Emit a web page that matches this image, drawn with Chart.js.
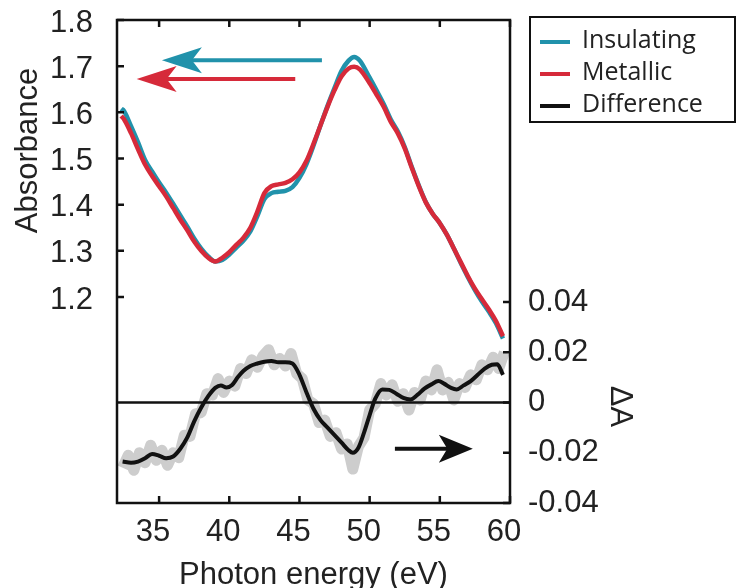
<!DOCTYPE html>
<html><head><meta charset="utf-8">
<script src="https://cdn.jsdelivr.net/npm/chart.js@4.4.1/dist/chart.umd.min.js"></script>
<style>html,body{margin:0;padding:0;background:#fff;}#wrap{width:738px;height:588px;}</style>
</head><body><div id="wrap"><canvas id="c" width="738" height="588"></canvas></div>
<script>
// ---- data ----
const energy = [32.3,32.5,33.0,33.5,34.0,34.5,35.0,35.5,36.0,36.5,37.0,37.5,38.0,38.5,39.0,39.5,40.0,40.5,41.0,41.5,42.0,42.5,43.0,43.5,44.0,44.5,45.0,45.5,46.0,46.5,47.0,47.5,48.0,48.5,48.9,49.3,50.0,50.5,51.0,51.5,52.0,52.5,53.0,53.5,54.0,54.5,55.0,55.5,56.0,56.5,57.0,57.5,58.0,58.5,59.0,59.5];
const insulating = [1.608,1.603,1.570,1.535,1.497,1.472,1.448,1.426,1.402,1.377,1.353,1.327,1.305,1.288,1.277,1.280,1.292,1.307,1.322,1.342,1.375,1.412,1.425,1.428,1.430,1.438,1.458,1.488,1.528,1.572,1.614,1.653,1.690,1.712,1.720,1.712,1.675,1.647,1.618,1.585,1.559,1.525,1.482,1.442,1.406,1.380,1.360,1.335,1.305,1.273,1.243,1.215,1.190,1.168,1.143,1.110];
const metallic = [1.592,1.585,1.555,1.520,1.487,1.462,1.440,1.418,1.393,1.368,1.345,1.320,1.300,1.285,1.277,1.285,1.297,1.313,1.328,1.350,1.385,1.425,1.440,1.444,1.447,1.455,1.470,1.495,1.532,1.572,1.612,1.648,1.678,1.695,1.699,1.693,1.663,1.638,1.612,1.580,1.555,1.522,1.480,1.440,1.405,1.380,1.360,1.335,1.305,1.275,1.245,1.218,1.195,1.173,1.148,1.115];
const diffEnergy = [32.4,33.0,33.5,34.0,34.5,35.0,35.5,36.0,36.5,37.0,37.5,38.0,38.5,39.0,39.4,39.8,40.2,40.6,41.0,41.5,42.0,42.5,43.0,43.5,44.0,44.5,45.0,45.5,46.0,46.5,47.0,47.5,48.0,48.5,48.8,49.2,49.6,50.0,50.4,50.9,51.4,51.9,52.4,52.9,53.4,53.9,54.4,54.9,55.3,55.8,56.2,56.7,57.2,57.7,58.2,58.7,59.1,59.5];
const difference = [-0.0235,-0.0240,-0.0235,-0.0222,-0.0205,-0.0212,-0.0222,-0.0215,-0.0185,-0.0140,-0.0075,-0.0020,0.0025,0.0058,0.0068,0.0060,0.0070,0.0100,0.0125,0.0145,0.0155,0.0162,0.0165,0.0160,0.0160,0.0155,0.0110,0.0040,-0.0025,-0.0070,-0.0100,-0.0130,-0.0160,-0.0190,-0.0200,-0.0180,-0.0120,-0.0050,0.0015,0.0052,0.0050,0.0035,0.0018,0.0012,0.0030,0.0055,0.0072,0.0085,0.0075,0.0058,0.0052,0.0068,0.0085,0.0110,0.0135,0.0150,0.0152,0.0110];
const rawEnergy = [32.4,32.8,33.2,33.6,34.0,34.4,34.8,35.2,35.6,36.0,36.4,36.8,37.2,37.6,38.0,38.4,38.8,39.2,39.6,40.0,40.4,40.8,41.2,41.6,42.0,42.4,42.8,43.2,43.6,44.0,44.4,44.8,45.2,45.6,46.0,46.4,46.8,47.2,47.6,48.0,48.4,48.8,49.2,49.6,50.0,50.4,50.8,51.2,51.6,52.0,52.4,52.8,53.2,53.6,54.0,54.4,54.8,55.2,55.6,56.0,56.4,56.8,57.2,57.6,58.0,58.4,58.8,59.2,59.6];
const differenceRaw = [-0.026,-0.021,-0.027,-0.020,-0.024,-0.017,-0.023,-0.019,-0.025,-0.020,-0.022,-0.013,-0.0135,-0.0045,-0.004,0.0035,0.003,0.0095,0.004,0.0085,0.0065,0.0135,0.0115,0.017,0.014,0.0185,0.021,0.015,0.0175,0.0145,0.0195,0.0115,0.0095,0.001,-0.0005,-0.008,-0.007,-0.0135,-0.012,-0.0185,-0.0165,-0.0265,-0.0175,-0.014,-0.003,-0.0005,0.0075,0.003,0.007,0.0005,0.0035,-0.003,0.004,0.001,0.0085,0.005,0.013,0.005,0.008,0.001,0.0075,0.006,0.011,0.009,0.015,0.013,0.018,0.0135,0.020];
const xTicks = [35,40,45,50,55,60];
const absTicks = [1.2,1.3,1.4,1.5,1.6,1.7,1.8];
const dATicks = [-0.04,-0.02,0,0.02,0.04];
const seriesNames = ['Insulating','Metallic','Difference'];
// arrow annotations in data units: [x from, x to (tip), y, axis]
const arrowBlue = [46.6, 35.2, 1.713, 'y'];
const arrowRed = [44.7, 33.4, 1.672, 'y'];
const arrowBlack = [51.8, 57.35, -0.0184, 'y2'];

// ---- styles ----
const BLUE = '#2192ab', RED = '#d62a3a', BLACK = '#111111', GRAY = '#cdcdcd', TXT = '#222222';
const FONT = "'Liberation Sans', Arial, sans-serif";
const pts = (xs, ys) => xs.map((x, i) => ({x, y: ys[i]}));

function drawArrow(ctx, x1, x2, y, color, L, W) {
  const d = Math.sign(x2 - x1);
  ctx.save();
  ctx.strokeStyle = color; ctx.fillStyle = color; ctx.lineWidth = 4;
  ctx.beginPath(); ctx.moveTo(x1, y); ctx.lineTo(x2 - d * L * 0.6, y); ctx.stroke();
  ctx.beginPath();
  ctx.moveTo(x2, y);
  ctx.lineTo(x2 - d * L, y - W);
  ctx.lineTo(x2 - d * L * 0.75, y);
  ctx.lineTo(x2 - d * L, y + W);
  ctx.closePath(); ctx.fill();
  ctx.restore();
}

const framePlugin = {
  id: 'frame',
  afterDatasetDraw(chart, args) {
    if (args.index !== 3) return;
    const {ctx, chartArea: a, scales} = chart;
    const y0 = scales.y2.getPixelForValue(0);
    ctx.save(); ctx.strokeStyle = BLACK; ctx.lineWidth = 2.5;
    ctx.beginPath(); ctx.moveTo(a.left, y0); ctx.lineTo(a.right, y0); ctx.stroke(); ctx.restore();
  },
  afterDraw(chart) {
    const {ctx, chartArea: a, scales} = chart;
    ctx.save();
    ctx.strokeStyle = BLACK; ctx.lineWidth = 2.5;
    ctx.strokeRect(a.left, a.top, a.right - a.left, a.bottom - a.top);
    const T = 7;
    ctx.beginPath();
    xTicks.forEach(v => { const x = scales.x.getPixelForValue(v);
      ctx.moveTo(x, a.bottom); ctx.lineTo(x, a.bottom - T);
      ctx.moveTo(x, a.top); ctx.lineTo(x, a.top + T); });
    absTicks.forEach(v => { const y = scales.y.getPixelForValue(v);
      ctx.moveTo(a.left, y); ctx.lineTo(a.left + T, y); });
    dATicks.forEach(v => { const y = scales.y2.getPixelForValue(v);
      ctx.moveTo(a.right, y); ctx.lineTo(a.right - T, y); });
    ctx.stroke();

    // y titles
    ctx.fillStyle = TXT; ctx.font = '31px ' + FONT;
    ctx.textAlign = 'center'; ctx.textBaseline = 'middle';
    ctx.save(); ctx.translate(28, (scales.y.getPixelForValue(1.2) + scales.y.getPixelForValue(1.8)) / 2 - 8);
    ctx.rotate(-Math.PI / 2); ctx.fillText('Absorbance', 0, 0); ctx.restore();
    ctx.save(); ctx.translate(620, scales.y2.getPixelForValue(0) + 4);
    ctx.rotate(Math.PI / 2); ctx.fillText('ΔA', 0, 0); ctx.restore();

    // arrows
    [[arrowBlue, BLUE, 40, 13], [arrowRed, RED, 40, 13], [arrowBlack, BLACK, 34, 14]].forEach(([ar, c, L, W]) => {
      drawArrow(ctx, scales.x.getPixelForValue(ar[0]), scales.x.getPixelForValue(ar[1]),
        scales[ar[3]].getPixelForValue(ar[2]), c, L, W);
    });

    // legend
    ctx.lineWidth = 2; ctx.strokeStyle = BLACK;
    ctx.strokeRect(530, 17, 205, 105);
    const cols = [BLUE, RED, BLACK];
    ctx.font = "25px 'Open Sans', sans-serif"; ctx.textAlign = 'left'; ctx.textBaseline = 'middle';
    seriesNames.forEach((n, i) => {
      const y = 41 + i * 32;
      ctx.strokeStyle = cols[i]; ctx.lineWidth = 4;
      ctx.beginPath(); ctx.moveTo(540, y + 1); ctx.lineTo(570, y + 1); ctx.stroke();
      ctx.fillStyle = TXT; ctx.fillText(n, 582, y);
    });
    ctx.restore();
  }
};

new Chart(document.getElementById('c'), {
  type: 'line',
  data: {
    datasets: [
      {label: seriesNames[0], data: pts(energy, insulating), yAxisID: 'y', borderColor: BLUE, borderWidth: 4.5, pointRadius: 0, tension: 0.4, cubicInterpolationMode: 'monotone', order: 2},
      {label: seriesNames[1], data: pts(energy, metallic), yAxisID: 'y', borderColor: RED, borderWidth: 4.5, pointRadius: 0, tension: 0.4, cubicInterpolationMode: 'monotone', order: 1},
      {label: seriesNames[2], data: pts(diffEnergy, difference), yAxisID: 'y2', borderColor: BLACK, borderWidth: 4, pointRadius: 0, tension: 0.4, cubicInterpolationMode: 'monotone', order: 3},
      {label: 'raw', data: pts(rawEnergy, differenceRaw), yAxisID: 'y2', borderColor: GRAY, borderWidth: 11, pointRadius: 0, tension: 0, borderJoinStyle: 'round', order: 5}
    ]
  },
  options: {
    responsive: false, animation: false, devicePixelRatio: 1,
    layout: {padding: {top: 20, left: 0, right: 0, bottom: 0}},
    plugins: {legend: {display: false}, tooltip: {enabled: false}},
    scales: {
      x: {type: 'linear', min: 32, max: 60,
        afterBuildTicks: s => { s.ticks = xTicks.map(v => ({value: v})); },
        afterFit: s => { s.height = 85; s.paddingLeft = 0; s.paddingRight = 0; },
        grid: {display: false}, border: {display: false},
        ticks: {autoSkip: false, maxRotation: 0, padding: 3, labelOffset: -6, color: TXT, font: {family: FONT, size: 31}},
        title: {display: true, text: 'Photon energy (eV)', color: TXT, font: {family: FONT, size: 31}, padding: {top: 0, bottom: -6}}},
      y: {position: 'left', min: 0.7538, max: 1.8,
        afterBuildTicks: s => { s.ticks = absTicks.map(v => ({value: v})); },
        afterFit: s => { s.width = 117; s.paddingTop = 0; s.paddingBottom = 0; },
        grid: {display: false}, border: {display: false},
        ticks: {autoSkip: false, padding: 16, labelOffset: 3, color: TXT, font: {family: FONT, size: 31}, callback: v => v.toFixed(1)}},
      y2: {position: 'right', min: -0.04, max: 0.1522,
        afterBuildTicks: s => { s.ticks = dATicks.map(v => ({value: v})); },
        afterFit: s => { s.width = 228; s.paddingTop = 0; s.paddingBottom = 0; },
        grid: {display: false}, border: {display: false},
        ticks: {autoSkip: false, padding: 10, color: TXT, font: {family: FONT, size: 31}, callback: v => Math.abs(v) < 1e-9 ? '0' : v.toFixed(2)}}
    }
  },
  plugins: [framePlugin]
});
</script></body></html>
